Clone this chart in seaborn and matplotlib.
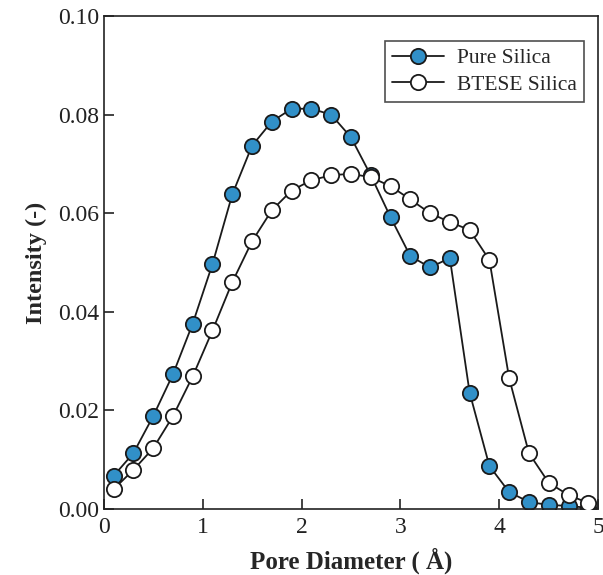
import numpy as np
import pandas as pd
import matplotlib
matplotlib.use("Agg")
import matplotlib.pyplot as plt
import seaborn as sns

# ─── Data ────────────────────────────────────────────────────────
pore_diameter = [0.1, 0.3, 0.5, 0.7, 0.9, 1.1, 1.3, 1.5, 1.7, 1.9, 2.1, 2.3, 2.5,
                 2.7, 2.9, 3.1, 3.3, 3.5, 3.7, 3.9, 4.1, 4.3, 4.5, 4.7, 4.9]

pure_silica = [0.0067, 0.0113, 0.0188, 0.0273, 0.0376, 0.0497, 0.0638, 0.0737,
               0.0786, 0.0812, 0.0812, 0.0800, 0.0754, 0.0677, 0.0592, 0.0513,
               0.0490, 0.0509, 0.0236, 0.0087, 0.0034, 0.0014, 0.0008, 0.0006,
               0.0002]

btese_silica = [0.0040, 0.0079, 0.0123, 0.0188, 0.0269, 0.0362, 0.0460, 0.0543,
                0.0606, 0.0646, 0.0667, 0.0677, 0.0680, 0.0673, 0.0655, 0.0628,
                0.0600, 0.0582, 0.0566, 0.0505, 0.0265, 0.0113, 0.0053, 0.0028,
                0.0012]

series_names = ["Pure Silica", "BTESE Silica"]
face_colors = {"Pure Silica": "#3190c8", "BTESE Silica": "white"}

x_ticks = [0, 1, 2, 3, 4, 5]
y_ticks = [0, 0.02, 0.04, 0.06, 0.08, 0.10]

df = pd.DataFrame({
    "Pore Diameter": pore_diameter * 2,
    "Intensity": pure_silica + btese_silica,
    "Sample": [series_names[0]] * len(pore_diameter) + [series_names[1]] * len(pore_diameter),
})

# ─── Theme ───────────────────────────────────────────────────────
sns.set_theme(style="ticks")
plt.rcParams.update({
    "font.family": ["Liberation Serif", "DejaVu Serif"],
    "axes.linewidth": 1.2,
    "xtick.direction": "in",
    "ytick.direction": "in",
    "xtick.major.size": 7,
    "ytick.major.size": 7,
    "xtick.major.width": 1.2,
    "ytick.major.width": 1.2,
})

fig, ax = plt.subplots(figsize=(6.03, 5.75), dpi=100)
fig.subplots_adjust(left=0.172, right=0.992, top=0.972, bottom=0.115)

for name in series_names:
    sub = df[df["Sample"] == name]
    sns.lineplot(data=sub, x="Pore Diameter", y="Intensity", ax=ax,
                 color="#1a1a1a", linewidth=1.3, marker="o", markersize=11,
                 markerfacecolor=face_colors[name], markeredgecolor="#1a1a1a",
                 markeredgewidth=1.3, label=name,
                 zorder=3 if name == "BTESE Silica" else 2)

ax.set_xlim(0, 5)
ax.set_ylim(0, 0.10)
ax.set_xticks(x_ticks)
ax.set_yticks(y_ticks)
ax.set_yticklabels([f"{v:.2f}" for v in y_ticks])
ax.tick_params(axis="both", labelsize=17, colors="#222222")
ax.tick_params(axis="x", pad=6)
ax.tick_params(axis="y", pad=3)
for s in ax.spines.values():
    s.set_visible(True)
    s.set_color("#222222")

ax.set_xlabel("Pore Diameter ( Å)", fontsize=18, fontweight="bold", labelpad=7)
ax.set_ylabel("Intensity (-)", fontsize=17.5, fontweight="bold", labelpad=8)

leg = ax.legend(loc="upper right", bbox_to_anchor=(0.972, 0.95), fontsize=15.5,
                frameon=True, fancybox=False, edgecolor="#222222",
                handlelength=2.4, borderpad=0.35, labelspacing=0.3,
                handletextpad=0.6, borderaxespad=0)
leg.get_frame().set_linewidth(1.2)

plt.savefig("out.png", dpi=100)
plt.close()
